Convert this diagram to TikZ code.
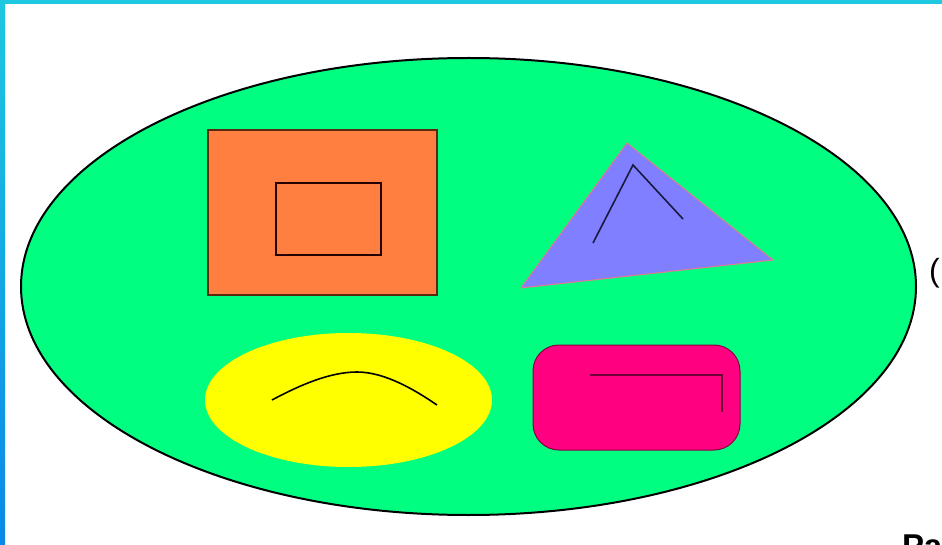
\documentclass[tikz,border=0pt]{standalone}
\usepackage{fontspec}
\setmainfont{Liberation Sans}
\usetikzlibrary{shapes.geometric}
\definecolor{frame}{HTML}{1EC8E0}
\definecolor{framedark}{HTML}{0A88E8}
\definecolor{bigfill}{HTML}{00FF80}
\definecolor{orangefill}{HTML}{FF7F40}
\definecolor{orangeline}{HTML}{5A2A10}
\definecolor{trifill}{HTML}{7F7FFF}
\definecolor{triline}{HTML}{E07A90}
\definecolor{yelfill}{HTML}{FFFF00}
\definecolor{magfill}{HTML}{FF0080}
\definecolor{magline}{HTML}{8A0045}
\definecolor{innerline}{HTML}{1A1A40}
\tikzset{
  outerell/.style={ellipse, draw=black, line width=2pt, fill=bigfill, inner sep=0pt},
  orangebox/.style={rectangle, draw=orangeline, line width=1.5pt, fill=orangefill, inner sep=0pt},
  innerbox/.style={rectangle, draw=black!85!red, line width=2pt, inner sep=0pt},
  yelell/.style={ellipse, fill=yelfill, inner sep=0pt},
  magbox/.style={rectangle, rounded corners=26pt, draw=magline, line width=1pt, fill=magfill, inner sep=0pt},
  markline/.style={line width=1.6pt, draw=innerline},
  labeltext/.style={inner sep=0pt, text=black}
}
\begin{document}
\begin{tikzpicture}[x=1pt,y=-1pt]
\useasboundingbox (0,0) rectangle (942,545);
\clip (0,0) rectangle (942,545);
\fill[white] (0,0) rectangle (942,545);
% frame
\fill[frame] (0,0) rectangle (942,4);
\shade[top color=frame, bottom color=framedark] (0,0) rectangle (5,545);
% big ellipse
\node[outerell, minimum width=895pt, minimum height=457pt] (big) at (468.5,286.5) {};
% orange rectangle
\node[orangebox, minimum width=229pt, minimum height=165pt] (orect) at (322.5,212.5) {};
\node[innerbox, minimum width=105pt, minimum height=72pt] (irect) at (328.5,219) {};
% triangle
\coordinate (ta) at (627,143);
\coordinate (tb) at (521,288);
\coordinate (tc) at (773,260);
\filldraw[fill=trifill, draw=triline, line width=1pt, line join=round] (ta) -- (tb) -- (tc) -- cycle;
\coordinate (la) at (593,243);
\coordinate (lb) at (633,165);
\coordinate (lc) at (683,219);
\draw[markline] (la) -- (lb) -- (lc);
% yellow ellipse
\node[yelell, minimum width=287pt, minimum height=134pt] (yel) at (348.5,400) {};
\coordinate (ya) at (272,400);
\coordinate (yb) at (357,372);
\coordinate (yc) at (437,405);
\draw[line width=1.6pt, black] (ya) .. controls (300,385) and (330,372) .. (yb) .. controls (385,372) and (415,390) .. (yc);
% magenta rounded box
\node[magbox, minimum width=207pt, minimum height=105pt] (mag) at (636.5,397.5) {};
\coordinate (ma) at (590,375);
\coordinate (mb) at (722,375);
\coordinate (mc) at (722,412);
\draw[line width=1.6pt, draw=magline!80!black] (ma) -- (mb) -- (mc);
% texts
\node[labeltext, anchor=base west, font=\fontsize{32}{36}\selectfont] (paren) at (929,281) {(};
\node[labeltext, anchor=base west, font=\fontsize{33}{38}\selectfont\bfseries] (ra) at (902,557) {Ра};
\end{tikzpicture}
\end{document}
